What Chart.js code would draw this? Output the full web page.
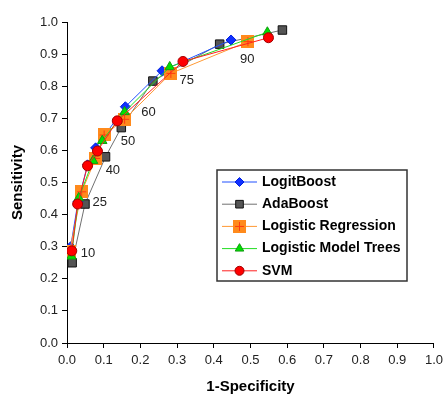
<!DOCTYPE html>
<html>
<head>
<meta charset="utf-8">
<script src="https://cdn.jsdelivr.net/npm/chart.js@4/dist/chart.umd.min.js"></script>
<style>
html,body{margin:0;padding:0;background:#fff;}
#wrap{width:448px;height:396px;position:relative;}
</style>
</head>
<body>
<div id="wrap"><canvas id="c" width="448" height="396"></canvas></div>
<script>
// ---- data ----
const seriesNames = ['LogitBoost', 'AdaBoost', 'Logistic Regression', 'Logistic Model Trees', 'SVM'];

const logitX = [0.010, 0.030, 0.056, 0.078, 0.159, 0.259, 0.447];
const logitY = [0.300, 0.440, 0.555, 0.608, 0.736, 0.848, 0.944];

const adaX = [0.014, 0.049, 0.105, 0.148, 0.234, 0.416, 0.587];
const adaY = [0.250, 0.433, 0.580, 0.671, 0.816, 0.931, 0.975];

const lrX = [0.007, 0.040, 0.078, 0.101, 0.157, 0.283, 0.493];
const lrY = [0.284, 0.471, 0.575, 0.648, 0.697, 0.840, 0.939];

const lmtX = [0.012, 0.032, 0.071, 0.096, 0.157, 0.280, 0.546];
const lmtY = [0.270, 0.452, 0.568, 0.630, 0.720, 0.860, 0.968];

const svmX = [0.013, 0.029, 0.056, 0.083, 0.137, 0.316, 0.549];
const svmY = [0.287, 0.433, 0.552, 0.598, 0.692, 0.877, 0.951];

// threshold annotations (text, and where they sit in data units)
const threshText = ['10', '25', '40', '50', '60', '75', '90'];
const threshX = [0.057, 0.089, 0.125, 0.166, 0.222, 0.326, 0.491];
const threshY = [0.280, 0.438, 0.539, 0.629, 0.719, 0.817, 0.882];

const tickValues = [0, 0.1, 0.2, 0.3, 0.4, 0.5, 0.6, 0.7, 0.8, 0.9, 1.0];

// ---- helpers ----
function pts(xs, ys) { return xs.map((x, i) => ({x: x, y: ys[i]})); }

function orangeSquare() {
  const c = document.createElement('canvas');
  c.width = 13; c.height = 13;
  const g = c.getContext('2d');
  g.fillStyle = '#FF8A1C';
  g.fillRect(0, 0, 13, 13);
  g.strokeStyle = '#FF3A10';
  g.lineWidth = 1;
  g.beginPath();
  g.moveTo(6.5, 2); g.lineTo(6.5, 11);
  g.moveTo(2, 6.5); g.lineTo(11, 6.5);
  g.stroke();
  return c;
}
const lrMarker = orangeSquare();

const FONT = '"Liberation Sans", Arial, sans-serif';

const datasets = [
  {label: seriesNames[4], data: pts(svmX, svmY), borderColor: '#FF2020', backgroundColor: '#FF0000',
   pointStyle: 'circle', pointRadius: 5, pointBorderColor: '#A00000', pointBorderWidth: 1, borderWidth: 1, order: 0},
  {label: seriesNames[3], data: pts(lmtX, lmtY), borderColor: '#22DD22', backgroundColor: '#00E000',
   pointStyle: 'triangle', pointRadius: 5.5, pointBorderColor: '#129A12', pointBorderWidth: 1, borderWidth: 1, order: 1},
  {label: seriesNames[2], data: pts(lrX, lrY), borderColor: '#FF9933', backgroundColor: '#FF8A1C',
   pointStyle: lrMarker, pointRadius: 7, borderWidth: 1, order: 2},
  {label: seriesNames[0], data: pts(logitX, logitY), borderColor: '#2050FF', backgroundColor: '#1030FF',
   pointStyle: 'rectRot', pointRadius: 5, pointBorderColor: '#0020E0', pointBorderWidth: 1, borderWidth: 1, order: 3},
  {label: seriesNames[1], data: pts(adaX, adaY), borderColor: '#707070', backgroundColor: '#555555',
   pointStyle: 'rect', pointRadius: 6, pointBorderColor: '#111111', pointBorderWidth: 1, borderWidth: 1, order: 4}
];

const legendOrder = [seriesNames[0], seriesNames[1], seriesNames[2], seriesNames[3], seriesNames[4]];

const threshPlugin = {
  id: 'thresh',
  afterDatasetsDraw(chart) {
    const ctx = chart.ctx, xs = chart.scales.x, ys = chart.scales.y;
    ctx.save();
    ctx.font = '13px ' + FONT;
    ctx.fillStyle = '#222';
    ctx.textAlign = 'center';
    ctx.textBaseline = 'middle';
    threshText.forEach((t, i) => {
      ctx.fillText(t, xs.getPixelForValue(threshX[i]), ys.getPixelForValue(threshY[i]));
    });
    ctx.restore();
  }
};

function markerDraw(ctx, ds, x, y) {
  ctx.save();
  ctx.fillStyle = ds.backgroundColor;
  ctx.strokeStyle = ds.pointBorderColor || ds.backgroundColor;
  ctx.lineWidth = ds.pointBorderWidth || 0;
  Chart.helpers.drawPoint(ctx, {pointStyle: ds.pointStyle, radius: ds.pointRadius, rotation: 0,
    borderWidth: ds.pointBorderWidth || 0}, x, y);
  ctx.restore();
}

const boxLegend = {
  id: 'boxLegend',
  afterDraw(chart) {
    const ctx = chart.ctx;
    const L = 217, T = 170, W = 190, H = 111;
    ctx.save();
    ctx.fillStyle = '#fff';
    ctx.fillRect(L, T, W, H);
    ctx.strokeStyle = '#333';
    ctx.lineWidth = 1.5;
    ctx.strokeRect(L, T, W, H);
    ctx.font = 'bold 14px ' + FONT;
    ctx.textBaseline = 'middle';
    ctx.textAlign = 'left';
    legendOrder.forEach((name, i) => {
      const ds = chart.data.datasets.find(d => d.label === name);
      const y = T + 12 + i * 22.2;
      ctx.strokeStyle = ds.borderColor;
      ctx.lineWidth = 1;
      ctx.beginPath();
      ctx.moveTo(222, y); ctx.lineTo(257, y);
      ctx.stroke();
      const r = name === 'Logistic Regression' ? ds.pointRadius : ds.pointRadius * 0.9;
      markerDraw(ctx, Object.assign({}, ds, {pointRadius: r}), 239.5, y);
      ctx.fillStyle = '#000';
      ctx.fillText(name, 262, y);
    });
    ctx.restore();
  }
};

new Chart(document.getElementById('c'), {
  type: 'scatter',
  data: {datasets: datasets.map(d => Object.assign({showLine: true, fill: false, tension: 0}, d))},
  options: {
    responsive: false,
    animation: false,
    events: [],
    layout: {padding: {left: 0, right: 11, top: 22, bottom: 0}},
    plugins: {legend: {display: false}, tooltip: {enabled: false}},
    scales: {
      x: {
        type: 'linear', min: 0, max: 1,
        afterBuildTicks: s => { s.ticks = tickValues.map(v => ({value: v})); },
        afterFit: s => { s.height = 53; },
        border: {color: '#000', width: 1},
        grid: {drawOnChartArea: false, color: '#000', tickLength: 5},
        ticks: {color: '#222', font: {family: FONT, size: 13}, padding: 5, maxRotation: 0,
                callback: v => Number(v).toFixed(1)},
        title: {display: true, text: '1-Specificity', color: '#000',
                font: {family: FONT, size: 15, weight: 'bold'}, padding: {top: 9, bottom: 0}}
      },
      y: {
        type: 'linear', min: 0, max: 1,
        afterBuildTicks: s => { s.ticks = tickValues.map(v => ({value: v})); },
        afterFit: s => { s.width = 67; },
        border: {color: '#000', width: 1},
        grid: {drawOnChartArea: false, color: '#000', tickLength: 5},
        ticks: {color: '#222', font: {family: FONT, size: 13}, padding: 4,
                callback: v => Number(v).toFixed(1)},
        title: {display: true, text: 'Sensitivity', color: '#000',
                font: {family: FONT, size: 15, weight: 'bold'}, padding: {top: 9, bottom: 0}}
      }
    }
  },
  plugins: [threshPlugin, boxLegend]
});
</script>
</body>
</html>
